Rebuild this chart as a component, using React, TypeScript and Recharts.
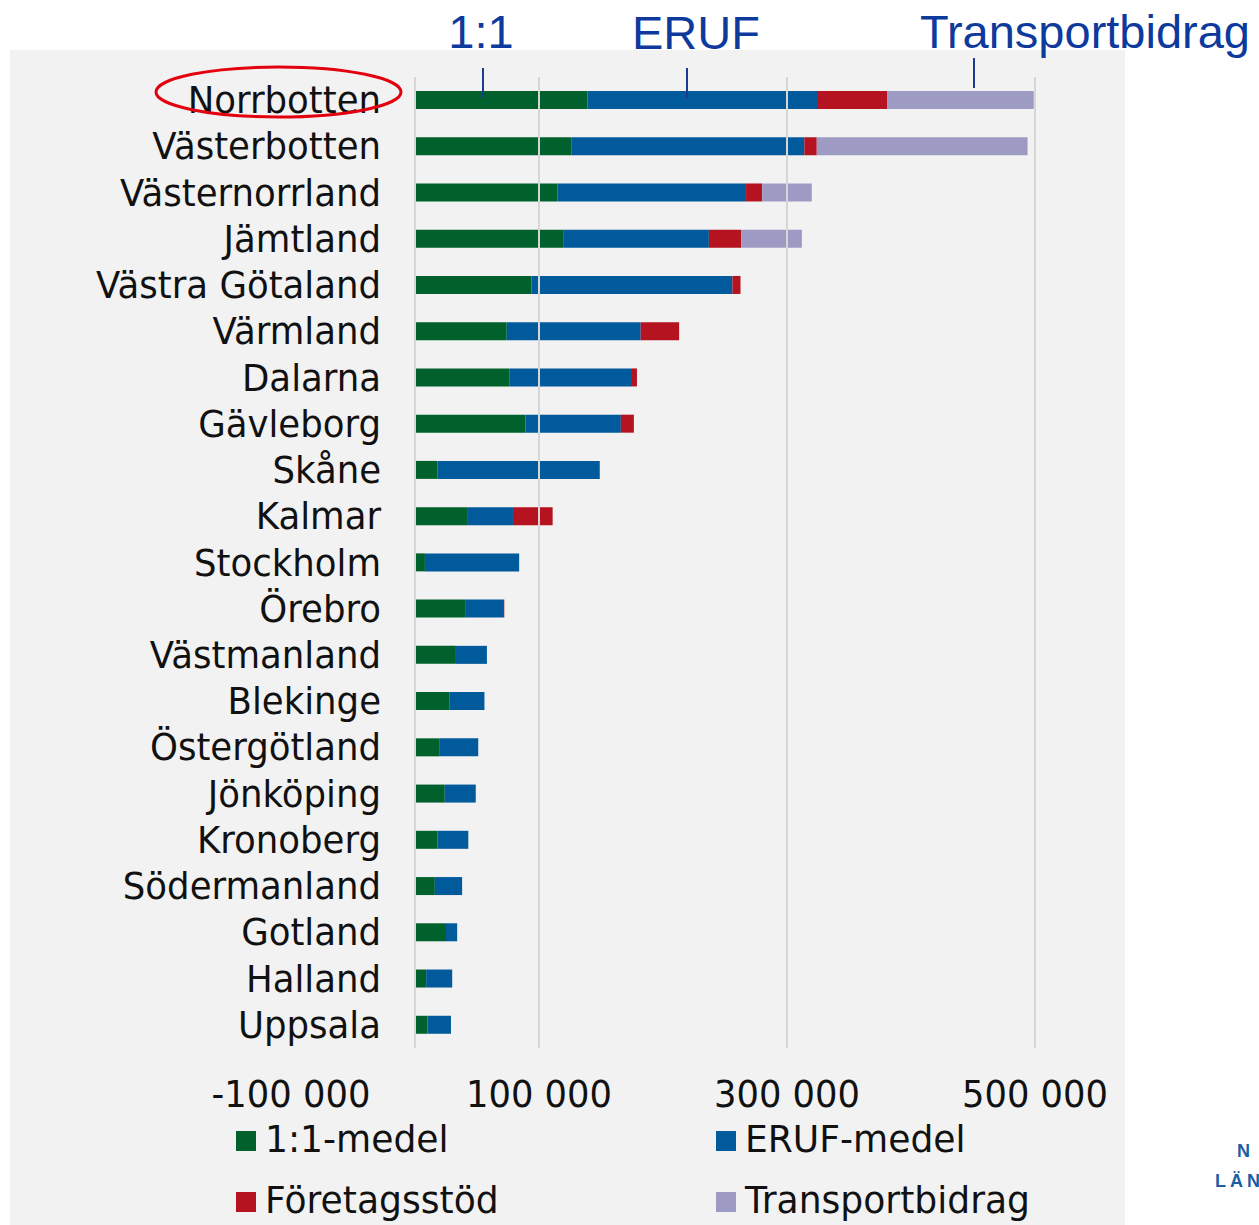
import React from "react";
import {
  BarChart, Bar, XAxis, YAxis, ReferenceLine, Legend,
} from "recharts";

const regions = [
  "Norrbotten", "Västerbotten", "Västernorrland", "Jämtland", "Västra Götaland",
  "Värmland", "Dalarna", "Gävleborg", "Skåne", "Kalmar", "Stockholm", "Örebro",
  "Västmanland", "Blekinge", "Östergötland", "Jönköping", "Kronoberg",
  "Södermanland", "Gotland", "Halland", "Uppsala",
];
const oneToOne = [139000, 126000, 115000, 120000, 94000, 74000, 76000, 89000, 18000, 42000, 8000, 41000, 33000, 28000, 20000, 24000, 18000, 16000, 25000, 9000, 10000];
const eruf = [186000, 188000, 152000, 117000, 162000, 108000, 99000, 77000, 131000, 37000, 76000, 30000, 25000, 28000, 31000, 25000, 25000, 22000, 9000, 21000, 19000];
const foretagsstod = [56000, 10000, 13000, 26000, 6500, 31000, 4000, 10500, 0, 32000, 0, 1000, 0, 0, 0, 0, 0, 0, 0, 0, 0];
const transportbidrag = [118000, 170000, 40000, 49000, 0, 0, 0, 0, 0, 0, 0, 0, 0, 0, 0, 0, 0, 0, 0, 0, 0];

const xTicks = [-100000, 100000, 300000, 500000];
const gridValues = [0, 100000, 300000, 500000];

const data = regions.map((name, i) => ({
  name,
  oneToOne: oneToOne[i],
  eruf: eruf[i],
  foretagsstod: foretagsstod[i],
  transportbidrag: transportbidrag[i],
}));

const FONT = "'DejaVu Sans', Verdana, sans-serif";

function formatThousands(v: number) {
  const s = Math.abs(v).toString().replace(/\B(?=(\d{3})+(?!\d))/g, " ");
  return (v < 0 ? "-" : "") + s;
}

function CategoryTick({ x, y, payload }: any) {
  return (
    <g transform={`translate(${x + 90},${y + 13}) scale(0.935,1)`}>
      <text textAnchor="end" fontFamily={FONT} fontSize={38} fill="#111">
        {payload.value}
      </text>
    </g>
  );
}

function ValueTick({ x, y, payload }: any) {
  return (
    <g transform={`translate(${x},${y + 59}) scale(0.93,1)`}>
      <text textAnchor="middle" fontFamily={FONT} fontSize={38} fill="#111">
        {formatThousands(payload.value)}
      </text>
    </g>
  );
}

function LegendBox({ payload }: any) {
  const cols = [236, 716];
  const rows = [21, 82];
  return (
    <svg width={1259} height={115} style={{ display: "block" }}>
      {(payload ?? []).map((entry: any, i: number) => {
        const cx = cols[i % 2];
        const cy = rows[Math.floor(i / 2)];
        return (
          <g key={entry.value}>
            <rect x={cx} y={cy} width={20} height={20} fill={entry.color} />
            <g transform={`translate(${cx + 29},${cy + 21}) scale(0.95,1)`}>
              <text fontFamily={FONT} fontSize={38} fill="#111">{entry.value}</text>
            </g>
          </g>
        );
      })}
    </svg>
  );
}

export default function App() {
  return (
    <div style={{ position: "absolute", left: 0, top: 0, width: 1259, height: 1225, overflow: "hidden", background: "#fff" }}>
      <div style={{ position: "absolute", left: 10, top: 50, width: 1115, height: 1175, background: "#f2f2f2" }} />
      <div style={{ position: "absolute", left: 0, top: 0 }}>
        <BarChart
          width={1259}
          height={1225}
          data={data}
          layout="vertical"
          margin={{ top: 77, right: 224, bottom: 117, left: 290 }}
        >
          {gridValues.map((v) => (
            <ReferenceLine key={v} x={v} stroke="#d6d6d6" strokeWidth={2} />
          ))}
          <XAxis
            type="number"
            domain={[-100000, 500000]}
            ticks={xTicks}
            height={60}
            axisLine={false}
            tickLine={false}
            tickSize={0}
            tickMargin={0}
            tick={<ValueTick />}
            interval={0}
          />
          <YAxis
            type="category"
            dataKey="name"
            width={1}
            axisLine={false}
            tickLine={false}
            tickSize={0}
            tickMargin={0}
            tick={<CategoryTick />}
            interval={0}
          />
          <Bar dataKey="oneToOne" name="1:1-medel" stackId="s" fill="#00612d" barSize={18} isAnimationActive={false} />
          <Bar dataKey="eruf" name="ERUF-medel" stackId="s" fill="#005a9c" barSize={18} isAnimationActive={false} />
          <Bar dataKey="foretagsstod" name="Företagsstöd" stackId="s" fill="#b5131f" barSize={18} isAnimationActive={false} />
          <Bar dataKey="transportbidrag" name="Transportbidrag" stackId="s" fill="#9d9bc4" barSize={18} isAnimationActive={false} />
          <Legend
            layout="horizontal"
            verticalAlign="middle"
            content={<LegendBox />}
            wrapperStyle={{ left: 0, top: 1110, width: 1259, height: 115 }}
          />
        </BarChart>
      </div>
      <svg width={1259} height={1225} style={{ position: "absolute", left: 0, top: 0, pointerEvents: "none" }}>
        <g fontFamily="'Liberation Sans', Arial, sans-serif" fontSize={47} fill="#0d3a9c" textAnchor="middle">
          <text x={481} y={48}>1:1</text>
          <text x={696} y={49}>ERUF</text>
          <text x={1085} y={48}>Transportbidrag</text>
        </g>
        <g stroke="#1b3c8e" strokeWidth={2}>
          <line x1={483} y1={68} x2={483} y2={98} />
          <line x1={687} y1={68} x2={687} y2={98} />
          <line x1={974} y1={58} x2={974} y2={88} />
        </g>
        <ellipse cx={278.5} cy={92} rx={122.5} ry={25} fill="none" stroke="#e3000f" strokeWidth={3} />
        <g fontFamily="'Liberation Sans', Arial, sans-serif" fontSize={18} fontWeight="bold" fill="#1a5fa3">
          <text x={1237} y={1157}>N</text>
          <text x={1215} y={1187} letterSpacing={4}>LÄN</text>
        </g>
      </svg>
    </div>
  );
}
